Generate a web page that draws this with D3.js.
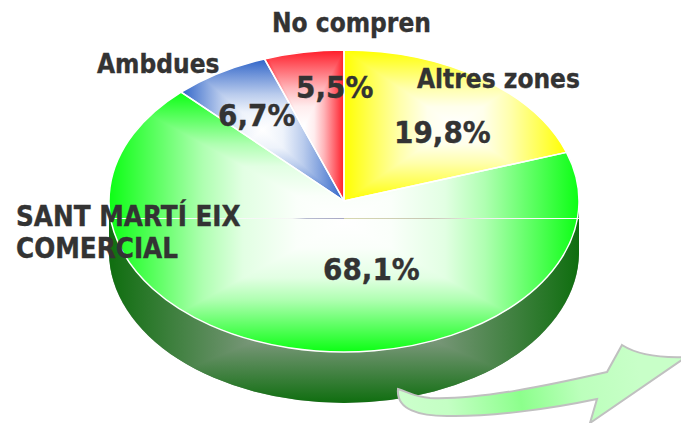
<!DOCTYPE html>
<html>
<head>
<meta charset="utf-8">
<script src="https://cdn.jsdelivr.net/npm/d3@7"></script>
<style>
  html, body { margin: 0; padding: 0; background: #fff; }
  svg { display: block; }
  text { font-family: "DejaVu Sans Condensed", "DejaVu Sans", sans-serif; font-weight: 700; fill: #333; stroke: #333; stroke-width: 0.35px; }
</style>
</head>
<body>
<div id="chart"></div>
<script>
// Share of answers per zone, clockwise from twelve o'clock
const categories = ["Altres zones", "SANT MARTÍ EIX COMERCIAL", "Ambdues", "No compren"];
const shares = [19.8, 68.1, 6.7, 5.5];
const shareLabels = ["19,8%", "68,1%", "6,7%", "5,5%"];
const sliceColors = ["#ffff00", "#0cff14", "#2f64c8", "#ff1c28"];

// Label anchors, as [left, baseline]
const shareLabelPos = [[394, 143], [323, 280], [218, 126], [296, 98]];
// Name lines, as [text, left, baseline, size]
const nameLines = [
  ["Altres zones", 417, 88, 26],
  ["SANT MARTÍ EIX", 16, 226, 27.5],
  ["COMERCIAL", 16, 258, 27.5],
  ["Ambdues", 97, 73, 26],
  ["No compren", 272, 32, 26]
];

const width = 681, height = 423;
const cx = 344, cy = 201, rx = 235, ry = 151, depth = 51;
const radius = 100;

const svg = d3.select("#chart").append("svg").attr("width", width).attr("height", height);
const defs = svg.append("defs");

// A rectangular "from centre" shading is the darker of two mirrored ramps.
// Each falloff pair is [distance from centre, amount of edge colour].
const largeSliceFalloff = [[0, 0], [0.2, 0.02], [0.43, 0.12], [0.6, 0.33], [0.77, 0.62], [0.92, 0.87], [1, 1]];
const smallSliceFalloff = [[0, 0], [0.25, 0.08], [0.5, 0.33], [0.75, 0.66], [1, 1]];
const wallFalloff = [[0, 0], [1, 1]];
const sliceFalloffs = [smallSliceFalloff, largeSliceFalloff, smallSliceFalloff, smallSliceFalloff];

function ramp(id, vertical, edge, centre, falloff) {
  const g = defs.append("linearGradient").attr("id", id)
    .attr("x1", 0).attr("y1", 0)
    .attr("x2", vertical ? 0 : 1).attr("y2", vertical ? 1 : 0);
  const mix = d3.interpolateRgb(centre, edge);
  const stops = falloff.map(([d, t]) => [0.5 - d / 2, t]).reverse()
    .concat(falloff.slice(1).map(([d, t]) => [0.5 + d / 2, t]));
  stops.forEach(([o, t]) => g.append("stop").attr("offset", o).attr("stop-color", mix(t)));
}

// Side wall of the disc
const sideEdge = "#0f6e0f", sideCentre = "#bcb0bc";
ramp("side-h", false, sideEdge, sideCentre, wallFalloff);
ramp("side-v", true, sideEdge, sideCentre, wallFalloff);
const wallPath = `M${cx - rx},${cy + 1}L${cx - rx},${cy + depth}` +
  `A${rx},${ry} 0 0 0 ${cx + rx},${cy + depth}L${cx + rx},${cy + 1}Z`;
const wall = svg.append("g").style("isolation", "isolate");
wall.append("path").attr("d", wallPath).attr("fill", "url(#side-h)");
wall.append("path").attr("d", wallPath).attr("fill", "url(#side-v)").style("mix-blend-mode", "darken");

// Top face
const pie = d3.pie().sort(null).value(d => d);
const arc = d3.arc().innerRadius(0).outerRadius(radius);
const arcs = pie(shares);

const face = svg.append("g")
  .attr("transform", `translate(${cx},${cy}) scale(${rx / radius},${ry / radius})`);

const slices = face.selectAll("g.slice").data(arcs).join("g")
  .attr("class", "slice").style("isolation", "isolate");

slices.each(function (d, i) {
  ramp(`slice-h-${i}`, false, sliceColors[i], "#ffffff", sliceFalloffs[i]);
  ramp(`slice-v-${i}`, true, sliceColors[i], "#ffffff", sliceFalloffs[i]);
  const g = d3.select(this);
  g.append("path").attr("d", arc(d)).attr("fill", `url(#slice-h-${i})`);
  g.append("path").attr("d", arc(d)).attr("fill", `url(#slice-v-${i})`).style("mix-blend-mode", "darken");
});

face.selectAll("path.edge").data(arcs).join("path")
  .attr("class", "edge")
  .attr("d", arc)
  .attr("fill", "none")
  .attr("stroke", "#fff")
  .attr("stroke-width", 1.5)
  .attr("vector-effect", "non-scaling-stroke")
  .attr("stroke-linejoin", "round");

// Hairline where the back of the wall shows through the top face
const seam = defs.append("linearGradient").attr("id", "seam")
  .attr("gradientUnits", "userSpaceOnUse")
  .attr("x1", cx - rx).attr("x2", cx + rx).attr("y1", 0).attr("y2", 0);
[[0, "#ffffff"], [0.39, "#f4f6f4"], [0.42, "#b8bcd0"], [0.499, "#a8a8c4"], [0.501, "#d8d8b0"],
 [0.68, "#c8c8b4"], [0.8, "#eeeeee"], [1, "#ffffff"]]
  .forEach(([o, c]) => seam.append("stop").attr("offset", o).attr("stop-color", c));
svg.append("rect").attr("x", cx - rx).attr("y", cy + 17).attr("width", 2 * rx).attr("height", 1)
  .attr("fill", "url(#seam)");

// Curved arrow leaving the lower right of the disc
const arrowFill = defs.append("linearGradient").attr("id", "arrow-fill")
  .attr("gradientUnits", "userSpaceOnUse")
  .attr("x1", 400).attr("y1", 415).attr("x2", 640).attr("y2", 375);
[[0, "#ccffcc"], [0.2, "#c4ffc4"], [0.5, "#8cff8c"], [0.75, "#bcffbc"], [1, "#c8ffc8"]]
  .forEach(([o, c]) => arrowFill.append("stop").attr("offset", o).attr("stop-color", c));
svg.append("path")
  .attr("d", "M398,389 C408,392 414,397 430,398 C480,400 550,385 607,372 L622,345 " +
             "C636,354 660,358 686,357 L590,423 L597,399 C550,409 490,417 447,416 " +
             "C420,416 396,410 398,389 Z")
  .attr("fill", "url(#arrow-fill)")
  .attr("stroke", "#c0c0c0")
  .attr("stroke-width", 2)
  .attr("stroke-linejoin", "miter");

// Labels
svg.selectAll("text.share").data(shareLabels).join("text")
  .attr("class", "share")
  .attr("x", (d, i) => shareLabelPos[i][0])
  .attr("y", (d, i) => shareLabelPos[i][1])
  .attr("font-size", 31)
  .text(d => d);

svg.selectAll("text.name").data(nameLines).join("text")
  .attr("class", "name")
  .attr("x", d => d[1])
  .attr("y", d => d[2])
  .attr("font-size", d => d[3])
  .text(d => d[0]);
</script>
</body>
</html>
